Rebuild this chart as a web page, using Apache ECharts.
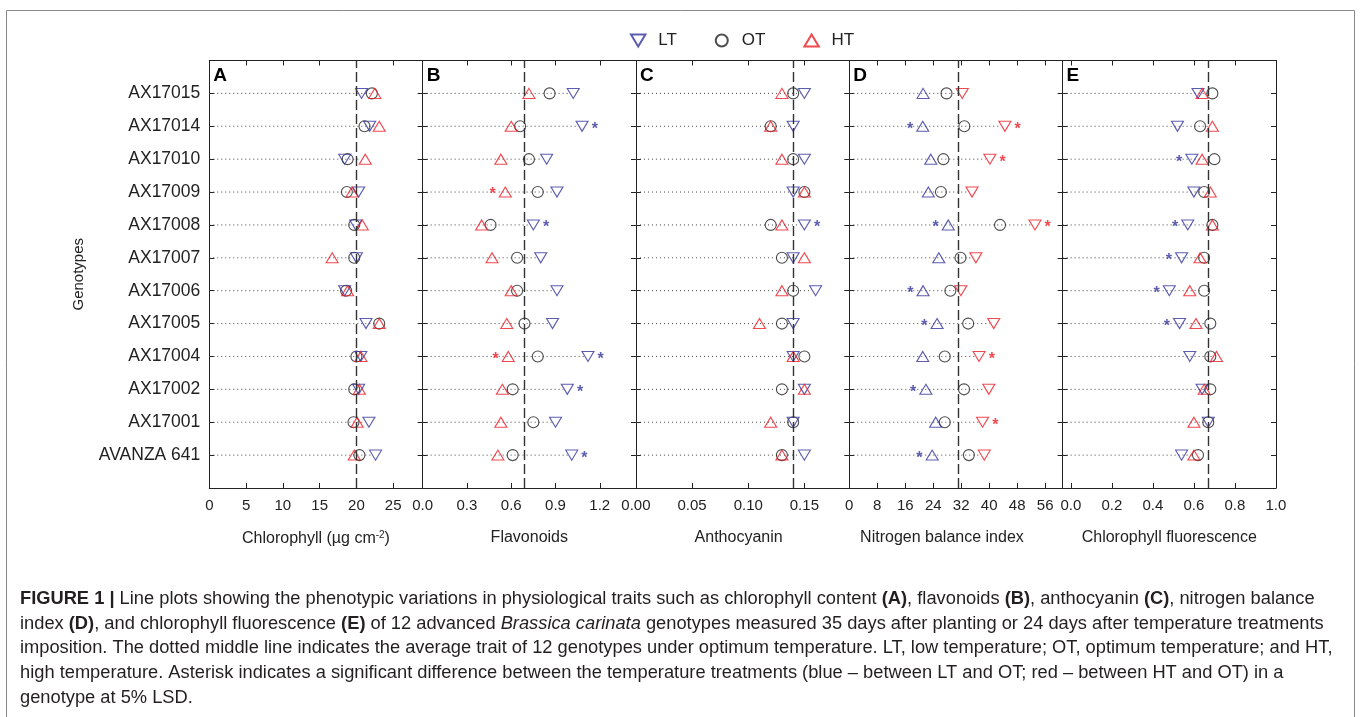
<!DOCTYPE html>
<html>
<head>
<meta charset="utf-8">
<script src="https://cdn.jsdelivr.net/npm/echarts@6/dist/echarts.min.js"></script>
<style>
html, body { margin: 0; padding: 0; background: #fff; }
#chart { width: 1360px; height: 717px; }
</style>
</head>
<body>
<div id="chart"></div>
<script>
// genotypes, top row first
const genotypes = ['AX17015', 'AX17014', 'AX17010', 'AX17009', 'AX17008', 'AX17007',
    'AX17006', 'AX17005', 'AX17004', 'AX17002', 'AX17001', 'AVANZA 641'];

// A - chlorophyll
const chlLT = [20.7, 21.8, 18.4, 20.3, 19.9, 20.0, 18.4, 21.3, 20.6, 20.3, 21.7, 22.6];
const chlOT = [22.1, 21.1, 18.8, 18.7, 19.7, 19.7, 18.6, 23.1, 20.0, 19.7, 19.6, 20.4];
const chlHT = [22.5, 23.1, 21.2, 19.4, 20.8, 16.7, 18.8, 23.1, 20.6, 20.4, 20.1, 19.7];
const chlLTsig = [0, 0, 0, 0, 0, 0, 0, 0, 0, 0, 0, 0];
const chlHTsig = [0, 0, 0, 0, 0, 0, 0, 0, 0, 0, 0, 0];

// B - flavonoids
const flavLT = [1.02, 1.08, 0.84, 0.91, 0.75, 0.80, 0.91, 0.88, 1.12, 0.98, 0.90, 1.01];
const flavOT = [0.86, 0.66, 0.72, 0.78, 0.46, 0.64, 0.64, 0.69, 0.78, 0.61, 0.75, 0.61];
const flavHT = [0.72, 0.60, 0.53, 0.56, 0.40, 0.47, 0.60, 0.57, 0.58, 0.54, 0.53, 0.51];
const flavLTsig = [0, 1, 0, 0, 1, 0, 0, 0, 1, 1, 0, 1];
const flavHTsig = [0, 0, 0, 1, 0, 0, 0, 0, 1, 0, 0, 0];

// C - anthocyanin
const anthLT = [0.15, 0.14, 0.15, 0.14, 0.15, 0.14, 0.16, 0.14, 0.14, 0.15, 0.14, 0.15];
const anthOT = [0.14, 0.12, 0.14, 0.15, 0.12, 0.13, 0.14, 0.13, 0.15, 0.13, 0.14, 0.13];
const anthHT = [0.13, 0.12, 0.13, 0.15, 0.13, 0.15, 0.13, 0.11, 0.14, 0.15, 0.12, 0.13];
const anthLTsig = [0, 0, 0, 0, 1, 0, 0, 0, 0, 0, 0, 0];
const anthHTsig = [0, 0, 0, 0, 0, 0, 0, 0, 0, 0, 0, 0];

// D - nitrogen balance index
const nbiLT = [21.1, 21.0, 23.3, 22.6, 28.3, 25.6, 21.1, 25.1, 21.0, 21.9, 24.7, 23.7];
const nbiOT = [27.8, 32.9, 26.9, 26.2, 43.1, 31.8, 28.9, 34.0, 27.3, 32.8, 27.3, 34.2];
const nbiHT = [32.3, 44.5, 40.2, 35.1, 53.1, 36.2, 31.9, 41.3, 37.1, 39.9, 38.1, 38.6];
const nbiLTsig = [0, 1, 0, 0, 1, 0, 1, 1, 0, 1, 0, 1];
const nbiHTsig = [0, 1, 1, 0, 1, 0, 0, 0, 1, 0, 1, 0];

// E - chlorophyll fluorescence
const fluLT = [0.62, 0.52, 0.59, 0.60, 0.57, 0.54, 0.48, 0.53, 0.58, 0.64, 0.67, 0.54];
const fluOT = [0.69, 0.63, 0.70, 0.65, 0.69, 0.65, 0.65, 0.68, 0.68, 0.68, 0.67, 0.62];
const fluHT = [0.64, 0.69, 0.64, 0.68, 0.69, 0.63, 0.58, 0.61, 0.71, 0.65, 0.60, 0.60];
const fluLTsig = [0, 0, 1, 0, 1, 1, 1, 1, 0, 0, 0, 0];
const fluHTsig = [0, 0, 0, 0, 0, 0, 0, 0, 0, 0, 0, 0];

// average OT (dashed line) per panel
const avgOT = [20.0, 0.685, 0.135, 31.1, 0.666];

// x tick labels
const chlTicks = [0, 5, 10, 15, 20, 25];
const flavTicks = [0, 0.3, 0.6, 0.9, 1.2];
const anthTicks = [0, 0.05, 0.10, 0.15];
const nbiTicks = [0, 8, 16, 24, 32, 40, 48, 56];
const fluTicks = [0, 0.2, 0.4, 0.6, 0.8, 1.0];
const rowTicks = [1, 2, 3, 4, 5, 6, 7, 8, 9, 10, 11, 12];

const BLUE = '#35359c';
const RED = '#ec1c24';
const BLACK = '#222';
const FONT = 'Liberation Sans, Arial, sans-serif';

const downTri = 'path://M0,0L12,0L6,10Z';
const upTri = 'path://M6,0L12,10L0,10Z';

const panels = [
    { letter: 'A', lt: chlLT, ot: chlOT, ht: chlHT, ltSig: chlLTsig, htSig: chlHTsig,
      min: 0, max: 29, ticks: chlTicks, dec: 0, name: 'Chlorophyll (µg cm{sup|-2})', shift: 0, ltUp: false },
    { letter: 'B', lt: flavLT, ot: flavOT, ht: flavHT, ltSig: flavLTsig, htSig: flavHTsig,
      min: 0, max: 1.445, ticks: flavTicks, dec: 1, name: 'Flavonoids', shift: 0, ltUp: false },
    { letter: 'C', lt: anthLT, ot: anthOT, ht: anthHT, ltSig: anthLTsig, htSig: anthHTsig,
      min: 0, max: 0.19, ticks: anthTicks, dec: 2, name: 'Anthocyanin', shift: 8, ltUp: false },
    { letter: 'D', lt: nbiLT, ot: nbiOT, ht: nbiHT, ltSig: nbiLTsig, htSig: nbiHTsig,
      min: 0, max: 61, ticks: nbiTicks, dec: 0, name: 'Nitrogen balance index', shift: 28, ltUp: true },
    { letter: 'E', lt: fluLT, ot: fluOT, ht: fluHT, ltSig: fluLTsig, htSig: fluHTsig,
      min: -0.04, max: 1.0, ticks: fluTicks, dec: 1, name: 'Chlorophyll fluorescence', shift: 0, ltUp: false }
];

const gridLeft = 209.3, gridW = 213.33, gridTop = 60.5, gridH = 427.5;

const grid = [], xAxis = [], yAxis = [], series = [], graphics = [];

// row position on the y value axis (top row = 12)
const rowOf = (i) => 12 - i;

panels.forEach((p, k) => {
    grid.push({ left: gridLeft + k * gridW, top: gridTop, width: gridW, height: gridH });

    const line = { show: true, onZero: false, lineStyle: { color: BLACK, width: 1 } };
    const tick = (vals) => ({ show: true, inside: true, length: 5, customValues: vals,
        lineStyle: { color: BLACK } });

    xAxis.push({
        gridIndex: k, type: 'value', position: 'bottom', min: p.min, max: p.max,
        axisLine: line, axisTick: tick(p.ticks),
        axisLabel: { customValues: p.ticks, margin: 10, fontSize: 15, color: BLACK, fontFamily: FONT,
            formatter: (v) => v.toFixed(p.dec) },
        splitLine: { show: false },
        name: p.name, nameLocation: 'middle', nameGap: 42,
        nameTextStyle: { fontSize: 16, color: BLACK, fontFamily: FONT, padding: [0, p.shift, 0, 0],
            rich: { sup: { fontSize: 10, verticalAlign: 'top', color: BLACK, fontFamily: FONT, padding: [0, 0, 8, 0] } } }
    });
    xAxis.push({
        gridIndex: k, type: 'value', position: 'top', min: p.min, max: p.max,
        axisLine: line, axisTick: tick(p.ticks),
        axisLabel: { show: false }, splitLine: { show: false }
    });
    yAxis.push({
        gridIndex: k, type: 'value', position: 'left', min: 0, max: 13,
        axisLine: line, axisTick: tick(rowTicks),
        axisLabel: { show: k === 0, customValues: rowTicks, margin: 9, fontSize: 17.5, color: BLACK,
            fontFamily: FONT, formatter: (v) => genotypes[12 - v] || '' },
        splitLine: { show: false },
        name: k === 0 ? 'Genotypes' : '', nameLocation: 'middle', nameGap: 123,
        nameTextStyle: { fontSize: 15, color: BLACK, fontFamily: FONT }
    });
    yAxis.push({
        gridIndex: k, type: 'value', position: 'right', min: 0, max: 13,
        axisLine: line, axisTick: tick(rowTicks),
        axisLabel: { show: false }, splitLine: { show: false }
    });

    const xi = 2 * k, yi = 2 * k;

    // dotted guide from the left edge to the rightmost marker of each row
    series.push({
        type: 'custom', xAxisIndex: xi, yAxisIndex: yi, silent: true, z: 1,
        data: genotypes.map((g, i) => [Math.max(p.lt[i], p.ot[i], p.ht[i]), rowOf(i)]),
        renderItem: (params, api) => {
            const y = api.value(1);
            const a = api.coord([p.min, y]);
            const b = api.coord([api.value(0), y]);
            return { type: 'line', shape: { x1: a[0], y1: a[1], x2: b[0] - 4, y2: b[1] },
                style: { stroke: '#444', lineWidth: 1, lineDash: [1, 3] } };
        }
    });

    const pts = (vals, sig, color) => vals.map((v, i) => {
        const item = { value: [v, rowOf(i)] };
        if (sig[i]) {
            item.label = { show: true, formatter: '*', position: v > p.ot[i] ? 'right' : 'left',
                distance: 3, offset: [0, 3], color: color, fontSize: 16, fontWeight: 'bold', fontFamily: FONT };
        }
        return item;
    });

    series.push({
        name: 'OT', type: 'scatter', xAxisIndex: xi, yAxisIndex: yi, z: 3,
        symbol: 'circle', symbolSize: 11,
        itemStyle: { color: 'rgba(0,0,0,0)', borderColor: BLACK, borderWidth: 1.1 },
        data: p.ot.map((v, i) => [v, rowOf(i)]),
        markLine: {
            silent: true, symbol: 'none', label: { show: false },
            lineStyle: { color: '#333', width: 1.4, type: [10, 4] },
            data: [{ xAxis: avgOT[k] }]
        }
    });
    series.push({
        name: 'LT', type: 'scatter', xAxisIndex: xi, yAxisIndex: yi, z: 4,
        symbol: p.ltUp ? upTri : downTri, symbolSize: [12, 10],
        itemStyle: { color: 'rgba(0,0,0,0)', borderColor: BLUE, borderWidth: 1.1 },
        data: pts(p.lt, p.ltSig, BLUE)
    });
    series.push({
        name: 'HT', type: 'scatter', xAxisIndex: xi, yAxisIndex: yi, z: 4,
        symbol: p.ltUp ? downTri : upTri, symbolSize: [12, 10],
        itemStyle: { color: 'rgba(0,0,0,0)', borderColor: RED, borderWidth: 1.1 },
        data: pts(p.ht, p.htSig, RED)
    });

    graphics.push({
        type: 'text', left: gridLeft + k * gridW + 4, top: gridTop + 6, z: 10,
        style: { text: p.letter, font: 'bold 19px ' + FONT, fill: '#000' }
    });
});

// outer frame
graphics.push({ type: 'polyline', silent: true,
    shape: { points: [[6.5, 717], [6.5, 10.5], [1354.5, 10.5], [1354.5, 717]] },
    style: { stroke: '#888', lineWidth: 1, fill: null } });

// caption
const capLines = [
    '{b|FIGURE 1 |} {n|Line plots showing the phenotypic variations in physiological traits such as chlorophyll content }{b|(A)}{n|, flavonoids }{b|(B)}{n|, anthocyanin }{b|(C)}{n|, nitrogen balance}',
    '{n|index }{b|(D)}{n|, and chlorophyll fluorescence }{b|(E)}{n| of 12 advanced }{i|Brassica carinata}{n| genotypes measured 35 days after planting or 24 days after temperature treatments}',
    '{n|imposition. The dotted middle line indicates the average trait of 12 genotypes under optimum temperature. LT, low temperature; OT, optimum temperature; and HT,}',
    '{n|high temperature. Asterisk indicates a significant difference between the temperature treatments (blue – between LT and OT; red – between HT and OT) in a}',
    '{n|genotype at 5% LSD.}'
];
const CAP = 18.3;
const capRich = {
    n: { fontSize: CAP, fontFamily: FONT, fill: '#231f20' },
    b: { fontSize: CAP, fontFamily: FONT, fontWeight: 'bold', fill: '#231f20' },
    i: { fontSize: CAP, fontFamily: FONT, fontStyle: 'italic', fill: '#231f20' }
};
capLines.forEach((t, i) => {
    graphics.push({
        type: 'text', x: 20, y: 599 + i * 24.7, silent: true,
        style: { text: t, rich: capRich, font: CAP + 'px ' + FONT, fill: '#231f20', verticalAlign: 'middle' }
    });
});

const chart = echarts.init(document.getElementById('chart'));
chart.setOption({
    backgroundColor: '#fff',
    animation: false,
    textStyle: { fontFamily: FONT },
    legend: {
        data: ['LT', 'OT', 'HT'], left: 625, top: 27, itemGap: 38, itemWidth: 30, itemHeight: 12,
        textStyle: { fontSize: 17, color: BLACK, fontFamily: FONT }
    },
    grid: grid,
    xAxis: xAxis,
    yAxis: yAxis,
    series: series,
    graphic: graphics
});
</script>
</body>
</html>
